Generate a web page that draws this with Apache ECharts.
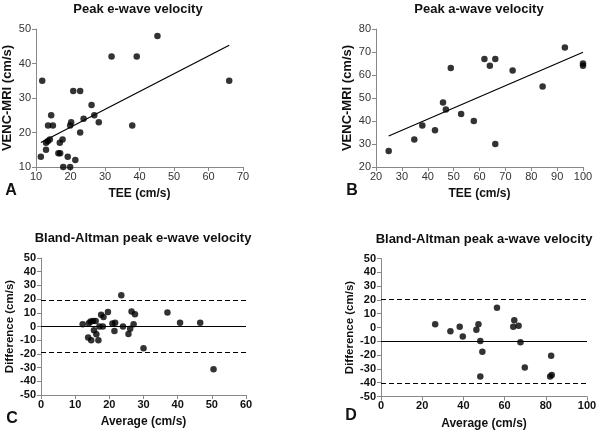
<!DOCTYPE html>
<html><head><meta charset="utf-8">
<script src="https://cdn.jsdelivr.net/npm/echarts@6/dist/echarts.min.js"></script>
<style>html,body{margin:0;padding:0;background:#fff}#c{width:600px;height:431px}</style>
</head><body><div id="c"></div>
<script>
// Panel A: Peak e-wave velocity
const aTee = [11.4,11.8,12.9,12.9,13.4,14.0,13.5,14.4,14.9,16.5,17.0,16.9,17.7,17.9,19.2,19.9,19.9,20.2,20.8,21.4,22.8,22.8,23.8,26.1,26.9,28.2,31.9,37.9,39.2,45.2,66.0];
const aMri = [13,35,15,17,17.5,18,22,25,22,14,14,17,18,10,13,10,22,23,32,12,32,20,24,28,25,23,42,22,42,48,35];
const aFitX = [11.4, 66.0];
const aFitY = [17.1, 45.3];
// Panel B: Peak a-wave velocity
const bTee = [24.9,34.8,37.9,42.8,45.9,47.0,48.9,52.9,57.8,61.9,64.0,66.1,66.1,72.8,84.4,93.0,100,100];
const bMri = [27,32,38,36,48,45,63,43,40,67,64,67,30,62,55,72,65,64];
const bFitX = [24.9, 100];
const bFitY = [33.5, 69.9];
// Panel C: Bland-Altman e-wave
const cAvg = [12.2,13.8,14.0,14.7,14.5,15.2,15.5,16.0,16.2,16.8,17.1,17.6,18.3,18.1,19.6,20.9,21.5,21.7,23.5,24.0,25.6,26.1,26.5,27.5,27.1,30.0,37.0,40.7,46.6,50.5];
const cDiff = [1.7,-8,2.4,-10,3.7,4,-2.7,4.1,-5.6,-10,0,8.5,7,0,10.5,2.2,-3.2,2.7,22.9,0,-5.4,-1.7,11,9,1.7,-15.9,10.2,2.7,2.7,-31.2];
const cLines = {mean: 0, upper: 19, lower: -19};
// Panel D: Bland-Altman a-wave
const dAvg = [26.3,33.7,38.2,39.7,46.3,47.3,48.2,48.2,49.2,56.3,64.2,64.7,66.8,67.7,69.8,82.6,82.1,82.9];
const dDiff = [2.4,-2.7,0.5,-6.5,-1.7,2.4,-9.7,-35.5,-17.6,14.3,0.5,5.3,1.2,-10.6,-29,-20.5,-35.5,-34.5];
const dLines = {mean: -10, upper: 20.3, lower: -40.6};

const titles = ['Peak e-wave velocity','Peak a-wave velocity','Bland-Altman peak e-wave velocity','Bland-Altman peak a-wave velocity'];
const xNames = ['TEE (cm/s)','TEE (cm/s)','Average (cm/s)','Average (cm/s)'];
const yNames = ['VENC-MRI (cm/s)','VENC-MRI (cm/s)','Difference (cm/s)','Difference (cm/s)'];
const letters = ['A','B','C','D'];
const xRanges = [[10,70,10],[20,100,10],[0,60,10],[0,100,20]];
const yRanges = [[10,50,10],[20,80,10],[-50,50,10],[-50,50,10]];

const FONT = '"Liberation Sans", Arial, sans-serif';
const grids = [
  {left:36, top:29, width:207, height:138},
  {left:376, top:29, width:207, height:138},
  {left:41, top:258, width:205, height:137},
  {left:381, top:258.5, width:206, height:138}
];
const titlePos = [[138,9],[479,9],[143,238],[484,239]];
const letterPos = [[11,191],[352,191],[12,419],[351,416]];

function xAxis(i){
  const bold = i>=2;
  return {gridIndex:i, type:'value', min:xRanges[i][0], max:xRanges[i][1], interval:xRanges[i][2],
    name:xNames[i], nameLocation:'middle', nameGap:21,
    nameTextStyle:{fontFamily:FONT,fontWeight:'bold',fontSize:12,color:'#111'},
    axisLine:{show:true,onZero:false,lineStyle:{color:'#888',width:1}},
    axisTick:{show:true,length:4,lineStyle:{color:'#888'}},
    axisLabel:{fontFamily:FONT,fontSize:11,color:bold?'#111':'#333',fontWeight:bold?'bold':'normal',margin:4},
    splitLine:{show:false}};
}
function yAxis(i){
  const bold = i>=2;
  return {gridIndex:i, type:'value', min:yRanges[i][0], max:yRanges[i][1], interval:yRanges[i][2],
    name:yNames[i], nameLocation:'middle', nameGap: bold?25:22,
    nameTextStyle:{fontFamily:FONT,fontWeight:'bold',fontSize:i>=2?11.5:13,color:'#111'},
    axisLine:{show:true,onZero:false,lineStyle:{color:'#888',width:1}},
    axisTick:{show:true,length:4,lineStyle:{color:'#888'}},
    axisLabel:{fontFamily:FONT,fontSize:11,color:bold?'#111':'#333',fontWeight:bold?'bold':'normal',margin:5},
    splitLine:{show:false}};
}
function scatter(i, xs, ys){
  return {type:'scatter', xAxisIndex:i, yAxisIndex:i, symbolSize:6.5, itemStyle:{color:'#000'},
    data: xs.map((x,k)=>[x, ys[k]]), silent:true, z:3};
}
function fit(i, xs, ys){
  return {type:'line', xAxisIndex:i, yAxisIndex:i, symbol:'none', lineStyle:{color:'#000',width:1.2},
    data: xs.map((x,k)=>[x, ys[k]]), silent:true};
}
function ba(i, lines){
  return {type:'line', xAxisIndex:i, yAxisIndex:i, data:[], silent:true,
    markLine:{symbol:'none', silent:true, label:{show:false},
      data:[
        {yAxis:lines.mean, lineStyle:{type:'solid',color:'#000',width:1.2}},
        {yAxis:lines.upper, lineStyle:{type:[5,3],color:'#000',width:1.2}},
        {yAxis:lines.lower, lineStyle:{type:[5,3],color:'#000',width:1.2}}
      ]}};
}

const graphic = [];
titles.forEach((t,i)=>{
  graphic.push({type:'text', x:titlePos[i][0], y:titlePos[i][1],
    style:{text:t, font:'bold 13px '+FONT, fill:'#111', textAlign:'center', textVerticalAlign:'middle'}});
  graphic.push({type:'text', x:letterPos[i][0], y:letterPos[i][1],
    style:{text:letters[i], font:'bold 16px '+FONT, fill:'#111', textAlign:'center', textVerticalAlign:'middle'}});
});

const chart = echarts.init(document.getElementById('c'), null, {renderer:'canvas'});
chart.setOption({
  animation:false,
  backgroundColor:'#fff',
  grid: grids,
  xAxis: [0,1,2,3].map(xAxis),
  yAxis: [0,1,2,3].map(yAxis),
  graphic: graphic,
  series: [
    scatter(0, aTee, aMri), fit(0, aFitX, aFitY),
    scatter(1, bTee, bMri), fit(1, bFitX, bFitY),
    ba(2, cLines), scatter(2, cAvg, cDiff),
    ba(3, dLines), scatter(3, dAvg, dDiff)
  ]
});
</script></body></html>
